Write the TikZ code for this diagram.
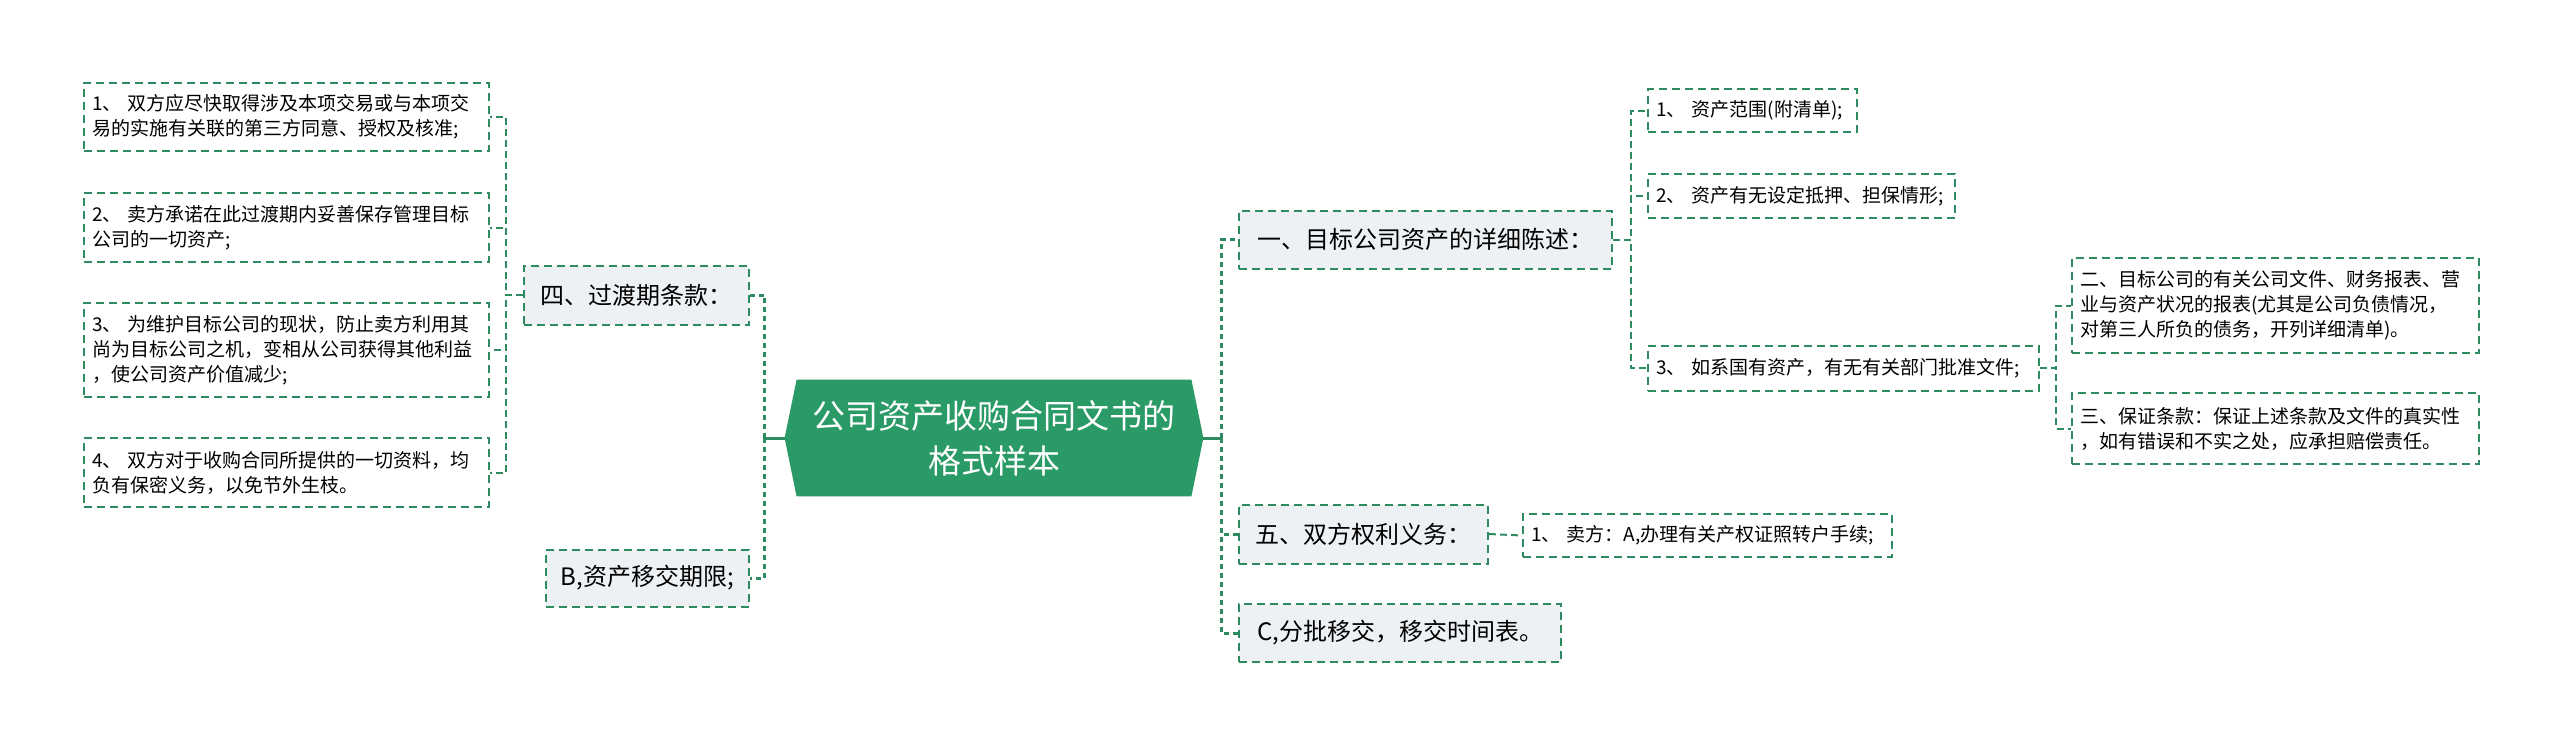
\documentclass[tikz,border=0pt]{standalone}
\usepackage{fontspec}
\newfontfamily\cjk{Noto Sans CJK SC}
\usetikzlibrary{calc}
\definecolor{edge}{HTML}{2E8A5F}
\definecolor{rootfill}{HTML}{2A9A66}
\definecolor{topicfill}{HTML}{EEF1F4}
\pgfdeclarelayer{bg}
\pgfsetlayers{bg,main}
\begin{document}
\begin{tikzpicture}[x=0.5pt,y=-0.5pt,
  boxline/.style={draw=edge, line width=1pt, dash pattern=on 4pt off 2.5pt},
  leaf/.style={boxline, fill=white, font=\cjk\fontsize{9.5}{12.5}\selectfont, align=left, inner xsep=4pt, inner ysep=0pt, anchor=west},
  topic/.style={boxline, fill=topicfill, font=\cjk\fontsize{12}{15}\selectfont, align=center, inner xsep=0pt, inner ysep=0pt, anchor=west},
  rootnode/.style={font=\cjk\fontsize{16.5}{22.5}\selectfont, text=white, align=center, inner sep=0pt, minimum width=209pt, minimum height=58pt},
  link/.style={draw=edge, line width=1pt, dash pattern=on 3.5pt off 2pt},
  mainlink/.style={draw=edge, line width=1.5pt, dash pattern=on 2.5pt off 2pt},
  mainstub/.style={draw=edge, line width=1.5pt}
]
\useasboundingbox (0,0) rectangle (2560,745);

% root
\node[rootnode] (root) at (994,438) {公司资产收购合同文书的\\格式样本};
\begin{pgfonlayer}{bg}
\fill[rootfill] (root.west) -- ([xshift=6pt]root.north west) -- ([xshift=-6pt]root.north east) -- (root.east) -- ([xshift=-6pt]root.south east) -- ([xshift=6pt]root.south west) -- cycle;
\end{pgfonlayer}

% left topics
\node[topic, minimum width=112.5pt, minimum height=29.5pt] (t4) at (523,295) {四、过渡期条款：};
\node[topic, minimum width=101.5pt, minimum height=28.5pt] (tb) at (545,578) {B,资产移交期限;};

% left leaves
\node[leaf, text width=194.5pt, minimum height=34pt] (l1) at (83,117) {1、~双方应尽快取得涉及本项交易或与本项交\\易的实施有关联的第三方同意、授权及核准;};
\node[leaf, text width=194.5pt, minimum height=34.5pt] (l2) at (83,227.5) {2、~卖方承诺在此过渡期内妥善保存管理目标\\公司的一切资产;};
\node[leaf, text width=194.5pt, minimum height=47pt] (l3) at (83,350) {3、~为维护目标公司的现状，防止卖方利用其\\尚为目标公司之机，变相从公司获得其他利益\\，使公司资产价值减少;};
\node[leaf, text width=194.5pt, minimum height=34.5pt] (l4) at (83,472.5) {4、~双方对于收购合同所提供的一切资料，均\\负有保密义务，以免节外生枝。};

% right topics
\node[topic, minimum width=186.5pt, minimum height=29pt] (t1) at (1238,239.5) {一、目标公司资产的详细陈述：};
\node[topic, minimum width=124.5pt, minimum height=29.5pt] (t5) at (1238,534) {五、双方权利义务：};
\node[topic, minimum width=161pt, minimum height=29pt] (tc) at (1238,633) {C,分批移交，移交时间表。};

% right leaves
\node[leaf, text width=96.5pt, minimum height=21.5pt] (r1) at (1647,110.5) {1、~资产范围(附清单);};
\node[leaf, text width=145.5pt, minimum height=22pt] (r2) at (1647,196) {2、~资产有无设定抵押、担保情形;};
\node[leaf, text width=187.5pt, minimum height=22.5pt] (r3) at (1647,368) {3、~如系国有资产，有无有关部门批准文件;};
\node[leaf, text width=195.5pt, minimum height=47.5pt] (r3a) at (2071,305.5) {二、目标公司的有关公司文件、财务报表、营\\业与资产状况的报表(尤其是公司负债情况，\\对第三人所负的债务，开列详细清单)。};
\node[leaf, text width=195.5pt, minimum height=35.5pt] (r3b) at (2071,428.5) {三、保证条款：保证上述条款及文件的真实性\\，如有错误和不实之处，应承担赔偿责任。};
\node[leaf, text width=176.5pt, minimum height=21.5pt] (f1) at (1522,535.5) {1、~卖方：A,办理有关产权证照转户手续;};

% main connectors
\draw[mainstub] (root.west) -- ++(-20,0) coordinate (lj);
\draw[mainlink] (lj) |- (t4.east);
\draw[mainlink] (lj) |- (tb.east);
\draw[mainstub] (root.east) -- ++(18,0) coordinate (rj);
\draw[mainlink] (rj) |- (t1.west);
\draw[mainlink] (rj) |- (t5.west);
\draw[mainlink] (rj) |- (tc.west);

% level 2 connectors
\foreach \c in {l1,l2,l3,l4} \draw[link] (t4.west) -- ++(-17,0) |- (\c.east);
\foreach \c in {r1,r2,r3} \draw[link] (t1.east) -- ++(18,0) |- (\c.west);
\foreach \c in {r3a,r3b} \draw[link] (r3.east) -- ++(16,0) |- (\c.west);
\draw[link] (t5.east) -- (f1.west);
\end{tikzpicture}
\end{document}
